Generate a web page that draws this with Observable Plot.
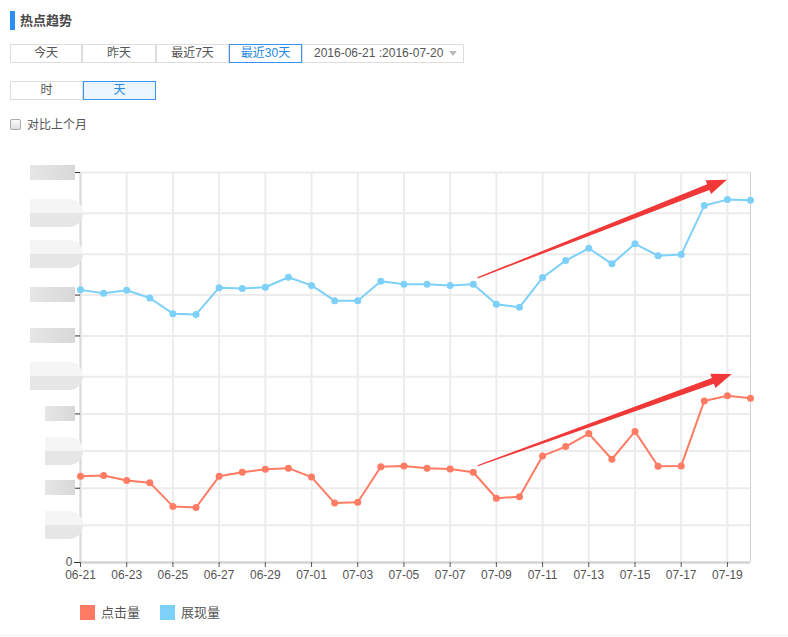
<!DOCTYPE html>
<html><head><meta charset="utf-8">
<script src="https://cdn.jsdelivr.net/npm/d3@7"></script>
<script src="https://cdn.jsdelivr.net/npm/@observablehq/plot@0.6"></script>
<style>
body{margin:0;background:#fff;font-family:"Liberation Sans",Arial,"Noto Sans CJK SC",sans-serif;color:#555;font-size:12px;}
#wrap{position:relative;width:788px;height:637px;overflow:hidden;}
.abs{position:absolute;box-sizing:border-box;}
.btn{border:1px solid #ddd;text-align:center;line-height:17px;height:19px;color:#555;background:#fff;}
.sel{border:1px solid #3a93ef;color:#1e88e5;}
#chart{position:absolute;left:0;top:150px;}
</style></head>
<body><div id="wrap">
<div class="abs" style="left:10px;top:11px;width:5px;height:19px;background:#2b8ef0"></div>
<div class="abs" style="left:20px;top:12px;font-size:13px;font-weight:bold;color:#4a4a4a;line-height:17px">热点趋势</div>
<div id="row1"></div>
<div id="row2"></div>
<div class="abs" style="left:10px;top:119px;width:11px;height:11px;border:1px solid #aaa;border-radius:2px;background:linear-gradient(#fafafa,#e2e2e2)"></div>
<div class="abs" style="left:27px;top:117px;line-height:16px;color:#555">对比上个月</div>
<div id="chart"></div>
<div id="redact"></div>
<div id="legend"></div>
<div class="abs" style="left:0;top:635px;width:788px;height:1px;background:#eee"></div>
</div>
<script>
// ---- data ----
const dates = ["2016-06-21","2016-06-22","2016-06-23","2016-06-24","2016-06-25","2016-06-26","2016-06-27","2016-06-28","2016-06-29","2016-06-30",
"2016-07-01","2016-07-02","2016-07-03","2016-07-04","2016-07-05","2016-07-06","2016-07-07","2016-07-08","2016-07-09","2016-07-10",
"2016-07-11","2016-07-12","2016-07-13","2016-07-14","2016-07-15","2016-07-16","2016-07-17","2016-07-18","2016-07-19","2016-07-20"];
const clicks = [232,234,221,215,151,148,232,243,251,254,230,160,162,258,260,254,252,243,173,177,287,312,347,278,353,259,260,435,449,442];
const impressions = [734,725,733,712,670,668,740,738,741,768,746,705,705,757,749,749,746,749,695,687,767,813,846,804,858,826,829,961,977,975];
const seriesNames = ["点击量","展现量"];
const seriesColors = ["#ff7b63","#7dd0f8"];
const yTicks = [0,100,200,300,400,500,610,720,830,940,1050];
const xTickLabels = ["06-21","06-23","06-25","06-27","06-29","07-01","07-03","07-05","07-07","07-09","07-11","07-13","07-15","07-17","07-19"];
const rangeButtons = ["今天","昨天","最近7天","最近30天"];
const granularity = ["时","天"];
const dateRangeText = "2016-06-21 :2016-07-20";
// trend annotation arrows (data space)
const arrows = [
  {from:["2016-07-08T05:00:00Z",765], to:["2016-07-19T00:00:00Z",1029]},
  {from:["2016-07-08T05:00:00Z",259], to:["2016-07-19T05:00:00Z",506]}
];
// y tick labels are masked in the source; which ticks show a tall (rounded) mask
const tallMaskTicks = [940,830,500,300,100];

// ---- controls ----
const row1 = document.getElementById("row1");
const r1 = [[10,72],[82,74],[156,73],[229,73]];
rangeButtons.forEach((t,i)=>{
  const d=document.createElement("div");
  d.className="abs btn"+(i===3?" sel":"");
  d.style.cssText+=`left:${r1[i][0]}px;top:44px;width:${r1[i][1]}px;`;
  d.textContent=t; row1.appendChild(d);
});
const dr=document.createElement("div");
dr.className="abs btn";
dr.style.cssText+="left:302px;top:44px;width:162px;text-align:left;padding-left:11px;";
dr.textContent=dateRangeText; row1.appendChild(dr);
const tri=document.createElement("div");
tri.className="abs";
tri.style.cssText="left:449px;top:51px;width:0;height:0;border-left:4px solid transparent;border-right:4px solid transparent;border-top:5px solid #bbb;";
row1.appendChild(tri);
const row2=document.getElementById("row2");
const r2=[[10,73],[83,73]];
granularity.forEach((t,i)=>{
  const d=document.createElement("div");
  d.className="abs btn"+(i===1?" sel":"");
  d.style.cssText+=`left:${r2[i][0]}px;top:81px;width:${r2[i][1]}px;`+(i===1?"background:#eaf5fe;":"");
  d.textContent=t; row2.appendChild(d);
});

// ---- chart ----
const parse = d3.utcParse("%Y-%m-%d");
const rows = dates.flatMap((d,i)=>[
  {date:parse(d), value:clicks[i], series:seriesNames[0]},
  {date:parse(d), value:impressions[i], series:seriesNames[1]}
]);
const xTicks = xTickLabels.map(s=>parse("2016-"+s));
const x0 = parse(dates[0]), x1 = parse(dates[dates.length-1]);

const plot = Plot.plot({
  width:788, height:445, marginLeft:80, marginRight:38, marginTop:22, marginBottom:33,
  style:{fontFamily:'"Liberation Sans",Arial,sans-serif', fontSize:"12px", color:"#555", background:"transparent", overflow:"visible"},
  x:{type:"utc", domain:[x0,x1], label:null},
  y:{domain:[0,1050], label:null},
  color:{domain:seriesNames, range:seriesColors},
  marks:[
    Plot.ruleX(xTicks,{stroke:"#ececec",strokeWidth:2}),
    Plot.ruleY(yTicks,{stroke:"#ececec",strokeWidth:2}),
    Plot.ruleX([x1],{stroke:"#d2d2d2",strokeWidth:1}),
    Plot.ruleX([x0],{stroke:"#dadada",strokeWidth:2}),
    Plot.ruleY([0],{stroke:"#d0d0d0",strokeWidth:2}),
    Plot.axisX({ticks:xTicks, tickFormat:d3.utcFormat("%m-%d"), tickSize:5, tickPadding:3, stroke:"#555", label:null}),
    Plot.axisY({ticks:yTicks, tickFormat:d=>d===0?"0":"", tickSize:6, tickPadding:2, stroke:"#333", label:null}),
    Plot.line(rows,{x:"date",y:"value",z:"series",stroke:"series",strokeWidth:2}),
    Plot.dot(rows,{x:"date",y:"value",fill:"series",r:3.5})
  ]
});
document.getElementById("chart").appendChild(plot);

// arrows via plot's scales
const sx = plot.scale("x"), sy = plot.scale("y");
const X = d3.scaleUtc().domain(sx.domain).range(sx.range);
const Y = d3.scaleLinear().domain(sy.domain).range(sy.range);
const svg = d3.select(plot.tagName.toLowerCase()==="svg"?plot:plot.querySelector("svg"));
arrows.forEach(a=>{
  const S=[X(new Date(a.from[0])),Y(a.from[1])], T=[X(new Date(a.to[0])),Y(a.to[1])];
  const dx=T[0]-S[0], dy=T[1]-S[1], L=Math.hypot(dx,dy);
  const u=[dx/L,dy/L], n=[-u[1],u[0]];
  const hl=20, B=[T[0]-hl*u[0],T[1]-hl*u[1]];
  const p=(P,k)=>[P[0]+k*n[0],P[1]+k*n[1]];
  const pts=[p(S,0.6),p(B,3),p(B,7.5),T,p(B,-7.5),p(B,-3),p(S,-0.6)];
  svg.append("polygon").attr("points",pts.map(q=>q.join(",")).join(" ")).attr("fill","#f03838");
});

// masked y labels (blurred blocks, as in the source)
const red = document.getElementById("redact");
yTicks.filter(t=>t>0).forEach(t=>{
  const cy = 150+Y(t);
  const upper = t>=500;
  const tall = tallMaskTicks.includes(t);
  const d=document.createElement("div");
  d.className="abs";
  const left = upper?30:45, w = upper?45:30;
  if(!tall){
    d.style.cssText=`left:${left}px;top:${cy-7.5}px;width:${w}px;height:15px;background:linear-gradient(90deg,#e6e6e6,#d8d8d8);`;
  }else{
    d.style.cssText=`left:${left}px;top:${cy-14}px;width:${w+8}px;height:28px;border-radius:0 14px 14px 0;background:linear-gradient(#f5f5f5 50%,#e6e6e6 50%);`;
  }
  red.appendChild(d);
});

// legend
const leg=document.getElementById("legend");
seriesNames.forEach((s,i)=>{
  const sq=document.createElement("div");
  sq.className="abs"; sq.style.cssText=`left:${80+i*80}px;top:605px;width:15px;height:15px;background:${seriesColors[i]}`;
  const tx=document.createElement("div");
  tx.className="abs"; tx.style.cssText=`left:${101+i*80}px;top:604px;line-height:17px;font-size:13px;color:#555`;
  tx.textContent=s; leg.appendChild(sq); leg.appendChild(tx);
});
</script>
</body></html>
